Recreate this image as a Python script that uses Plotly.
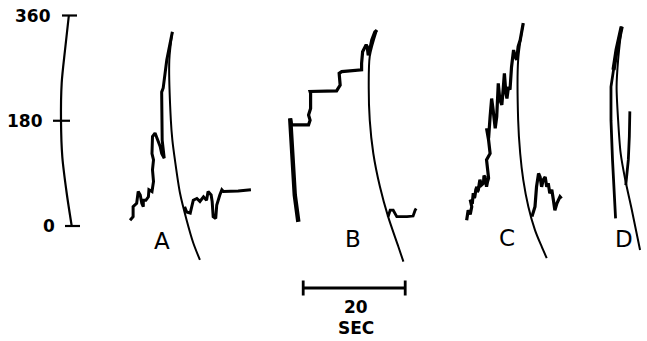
import plotly.graph_objects as go

# ---------------- data (time in seconds, pen angle in degrees) ----------------
scale_ticks = [0, 180, 360]
scale_tick_labels = ["0", "180", "360"]
scale_arc_t = [13.5, 12.75, 12.1, 11.96, 12.22, 13.08, 14.06]
scale_arc_deg = [360, 301, 245, 180, 118, 56, 0]

A_pre_t = [25.5, 26.1, 26.1, 26.8, 27.1, 27.5, 27.8, 28.1, 28.1, 28.6, 29.1, 29.2, 29.8, 29.9, 30.1,
           29.9, 30.1, 29.8, 29.9, 30.4, 31.0, 31.4, 31.7, 32.2, 31.8, 31.7, 31.7, 32.0, 32.7, 33.8]
A_pre_deg = [10, 16, 33, 39, 59, 53, 39, 33, 44, 44, 50, 62, 59, 67, 76,
             96, 113, 124, 153, 159, 147, 136, 124, 116, 147, 181, 229, 236, 284, 332]
A_arc_t = [33.8, 33.2, 33.5, 33.8, 34.3, 35.3, 36.6, 37.9, 39.2]
A_arc_deg = [332, 284, 181, 147, 113, 56, 10, -29, -58]
A_post_t = [36.2, 36.6, 37.3, 37.6, 37.9, 38.6, 39.2, 39.9, 40.5, 40.8, 41.4, 41.6, 41.8, 42.3, 42.5,
            43.1, 43.5, 43.8, 45.4, 46.7, 49.2]
A_post_deg = [33, 24, 22, 33, 44, 47, 42, 50, 44, 59, 53, 42, 16, 13, 36, 53, 62, 59, 59, 60, 62]

B_pre_t = [58.5, 58.0, 57.8, 56.9, 57.2, 60.5, 60.8, 60.5, 60.9, 60.9, 60.8, 66.0, 66.3, 66.7, 66.5,
           67.0, 70.9, 70.9, 71.1, 71.8, 72.0, 72.2, 72.5, 72.9, 73.5, 73.9]
B_pre_deg = [7, 36, 53, 184, 173, 173, 181, 190, 201, 227, 230, 231, 236, 241, 261,
             264, 267, 278, 298, 310, 307, 292, 301, 318, 332, 335]
B_arc_t = [73.9, 72.5, 72.3, 72.5, 73.2, 74.5, 76.1, 78.1, 79.1]
B_arc_deg = [335, 290, 238, 181, 124, 67, 16, -35, -61]
B_post_t = [76.1, 76.5, 77.1, 77.5, 77.8, 79.8, 81.0, 81.4, 81.6]
B_post_deg = [16, 27, 27, 22, 16, 16, 17, 27, 30]

C_pre_t = [91.5, 91.8, 92.2, 92.5, 92.2, 92.6, 92.8, 93.0, 93.1, 93.3, 93.5, 93.6, 93.8, 94.0,
           94.1, 94.4, 94.8, 94.9, 95.1, 95.3, 95.4, 95.6, 95.8,
           95.4, 96.1, 95.8, 95.4, 95.8, 96.1, 96.4, 96.7, 97.1, 97.4, 97.6, 97.7, 98.0, 98.4,
           98.7, 98.9, 99.2, 99.4, 99.7, 100.0, 100.3, 100.7, 101.0, 101.3, 101.6, 102.0, 102.6]
C_pre_deg = [10, 27, 20, 33, 45, 38, 56, 48, 50, 62, 67, 58, 62, 74,
             79, 70, 73, 86, 84, 74, 67, 76, 82,
             113, 124, 147, 167, 150, 187, 218, 198, 167, 187, 216, 244, 216, 207,
             238, 261, 227, 218, 238, 233, 272, 301, 290, 284, 307, 318, 347]
C_arc_t = [102.6, 101.6, 101.6, 102.0, 102.6, 103.6, 104.9, 106.2, 107.2]
C_arc_deg = [347, 284, 181, 124, 79, 33, -7, -35, -55]
C_post_t = [104.3, 104.9, 105.2, 105.6, 105.9, 106.2, 106.5, 106.9, 107.2, 107.5, 107.8, 108.2,
            108.5, 108.8, 109.2, 109.5, 109.8, 110.1]
C_post_deg = [16, 33, 67, 90, 84, 67, 79, 84, 67, 73, 56, 62, 45, 27, 39, 45, 50, 47]

D_pre_t = [120.7, 120.3, 120.1, 119.8, 119.8, 120.3, 120.9, 121.9]
D_pre_deg = [13, 67, 113, 181, 238, 267, 301, 341]
D_arc_t = [121.9, 121.2, 120.9, 121.2, 121.7, 122.6, 123.9, 125.5]
D_arc_deg = [341, 284, 238, 181, 124, 79, 27, -41]
D_post_t = [122.7, 123.0, 123.2, 123.4, 123.5]
D_post_deg = [70, 96, 113, 153, 196]

panel_labels = ["A", "B", "C", "D"]
time_bar_sec = 20
time_bar_start = 59.45
time_bar_labels = ["20", "SEC"]

# ---------------- layout geometry ----------------
W, H = 647, 341
PX_PER_SEC = 5.1
DEG_PER_PX = 360 / 210.5
ZERO_PX = 226  # pixel row of 0 deg

x_range = [0, W / PX_PER_SEC]
y_range = [(ZERO_PX - H) * DEG_PER_PX, ZERO_PX * DEG_PER_PX]


def px_to_paper(px, py):
    return px / W, 1 - py / H


fig = go.Figure()


def add_line(t, d, width, spline=False):
    fig.add_trace(go.Scatter(
        x=t, y=d, mode="lines", hoverinfo="skip", showlegend=False,
        line=dict(color="black", width=width,
                  shape="spline" if spline else "linear",
                  smoothing=0.8 if spline else None)))


# scale arc
add_line(scale_arc_t, scale_arc_deg, 2.2, spline=True)

# traces
add_line(A_pre_t, A_pre_deg, 3.0)
add_line(A_arc_t, A_arc_deg, 2.0, spline=True)
add_line(A_post_t, A_post_deg, 3.0)

add_line(B_pre_t[:4], B_pre_deg[:4], 4.4)
add_line(B_pre_t[3:], B_pre_deg[3:], 3.2)
add_line(B_arc_t, B_arc_deg, 2.0, spline=True)
add_line(B_post_t, B_post_deg, 2.8)

add_line(C_pre_t, C_pre_deg, 3.2)
add_line(C_arc_t, C_arc_deg, 2.0, spline=True)
add_line(C_post_t, C_post_deg, 3.2)

add_line(D_pre_t, D_pre_deg, 2.8)
add_line(D_pre_t[-3:], D_pre_deg[-3:], 4.2)
add_line(D_arc_t, D_arc_deg, 2.0, spline=True)
add_line(D_post_t, D_post_deg, 2.8)

shapes = []
# scale ticks (horizontal pixel extents)
tick_px = {360: (62, 77), 180: (53, 70), 0: (65, 80)}
for v in scale_ticks:
    x0, x1 = tick_px[v]
    shapes.append(dict(type="line", xref="x", yref="y",
                       x0=x0 / PX_PER_SEC, x1=x1 / PX_PER_SEC, y0=v, y1=v,
                       line=dict(color="black", width=2.2)))

# time bar
bar_y = (ZERO_PX - 288) * DEG_PER_PX
tick_h = 7.5 * DEG_PER_PX
shapes.append(dict(type="line", xref="x", yref="y", x0=time_bar_start,
                   x1=time_bar_start + time_bar_sec, y0=bar_y, y1=bar_y,
                   line=dict(color="black", width=2.8)))
for xx in (time_bar_start, time_bar_start + time_bar_sec):
    shapes.append(dict(type="line", xref="x", yref="y", x0=xx, x1=xx,
                       y0=bar_y - tick_h, y1=bar_y + tick_h,
                       line=dict(color="black", width=2.8)))

annotations = []
label_right_px = {360: 53, 180: 45, 0: 57}
for v, lab in zip(scale_ticks, scale_tick_labels):
    annotations.append(dict(x=label_right_px[v] / W, xref="paper", y=v, yref="y",
                            text=lab, showarrow=False, xanchor="right", yanchor="middle",
                            font=dict(family="DejaVu Sans", size=17, color="black", weight="bold")))

label_px = [(162, 241), (352.5, 239), (506.5, 238), (624, 239)]
for lab, (px, py) in zip(panel_labels, label_px):
    xp, yp = px_to_paper(px, py)
    annotations.append(dict(x=xp, y=yp, xref="paper", yref="paper", text=lab,
                            showarrow=False, xanchor="center", yanchor="middle",
                            font=dict(family="DejaVu Sans", size=23, color="black")))

bar_center_px = (time_bar_start + time_bar_sec / 2) * PX_PER_SEC
for lab, py in zip(time_bar_labels, (307, 328)):
    xp, yp = px_to_paper(bar_center_px + 1.5, py)
    annotations.append(dict(x=xp, y=yp, xref="paper", yref="paper", text=lab,
                            showarrow=False, xanchor="center", yanchor="middle",
                            font=dict(family="DejaVu Sans", size=17, color="black", weight="bold")))

fig.update_layout(
    width=W, height=H,
    margin=dict(l=0, r=0, t=0, b=0, pad=0),
    paper_bgcolor="white", plot_bgcolor="white",
    xaxis=dict(range=x_range, visible=False, fixedrange=True),
    yaxis=dict(range=y_range, visible=False, fixedrange=True),
    shapes=shapes, annotations=annotations,
    showlegend=False,
)

fig.write_html("out.html", config={"displayModeBar": False},
               post_script="document.body.style.margin='0px';document.body.style.overflow='hidden';")
